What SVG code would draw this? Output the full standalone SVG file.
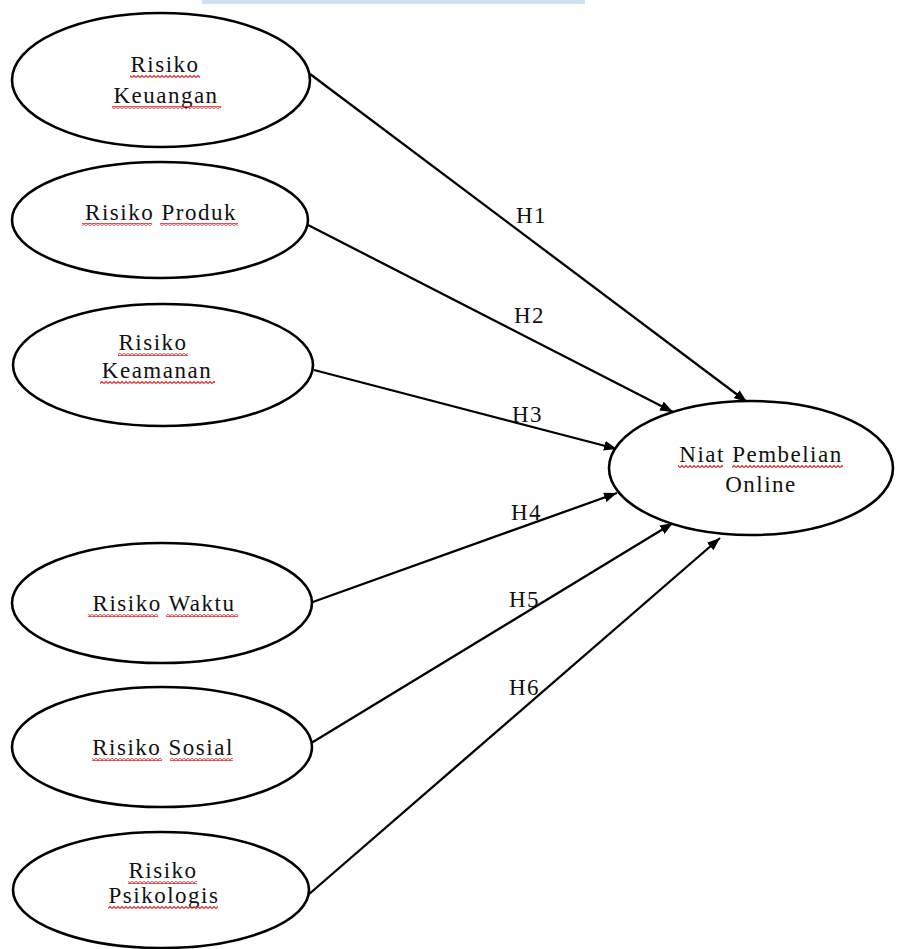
<svg xmlns="http://www.w3.org/2000/svg" width="897" height="949" viewBox="0 0 897 949">
<style>
.node ellipse{fill:#fff;stroke:#000;stroke-width:2.6}
text{font-family:"Liberation Serif","Times New Roman",serif;font-size:23px;letter-spacing:1.5px;fill:#111;text-anchor:middle}
.lbl{text-anchor:start}
.conn line{stroke:#000;stroke-width:2.3}
.sq{fill:url(#squig)}
</style>
<defs>
<marker id="ah" viewBox="0 0 13 10" refX="13" refY="5" markerWidth="13" markerHeight="10" markerUnits="userSpaceOnUse" orient="auto">
<path d="M0,0 L13,5 L0,10 Z" fill="#000"/>
</marker>
<pattern id="squig" width="4" height="3" patternUnits="userSpaceOnUse">
<path d="M0,2.5 L2,0.5 L4,2.5" fill="none" stroke="#e02828" stroke-width="1.1"/>
</pattern>
</defs>
<rect x="202" y="0" width="383" height="4" fill="#cfe2f3"/>
<g class="conn">
<line x1="310" y1="74" x2="747" y2="402" marker-end="url(#ah)"/>
<line x1="308" y1="225" x2="673" y2="412" marker-end="url(#ah)"/>
<line x1="314" y1="370" x2="617" y2="449" marker-end="url(#ah)"/>
<line x1="310" y1="603" x2="617" y2="493" marker-end="url(#ah)"/>
<line x1="308" y1="745" x2="673" y2="523" marker-end="url(#ah)"/>
<line x1="308" y1="895" x2="720" y2="538" marker-end="url(#ah)"/>
</g>
<g id="n1" class="node">
<ellipse cx="161" cy="80" rx="149" ry="67"/>
<text x="165" y="72">Risiko</text>
<text x="166" y="103">Keuangan</text>
<rect class="sq" x="130" y="75" width="70" height="3"/>
<rect class="sq" x="112" y="106" width="109" height="3"/>
</g>
<g id="n2" class="node">
<ellipse cx="160" cy="220" rx="148" ry="58"/>
<text x="161" y="220">Risiko Produk</text>
<rect class="sq" x="82" y="223" width="70" height="3"/>
<rect class="sq" x="160" y="223" width="78" height="3"/>
</g>
<g id="n3" class="node">
<ellipse cx="163" cy="365" rx="150" ry="61"/>
<text x="153" y="350">Risiko</text>
<text x="157" y="378">Keamanan</text>
<rect class="sq" x="118" y="353" width="70" height="3"/>
<rect class="sq" x="100" y="381" width="115" height="3"/>
</g>
<g id="n4" class="node">
<ellipse cx="162" cy="603" rx="150" ry="60"/>
<text x="164" y="611">Risiko Waktu</text>
<rect class="sq" x="88" y="614" width="70" height="3"/>
<rect class="sq" x="166" y="614" width="72" height="3"/>
</g>
<g id="n5" class="node">
<ellipse cx="162" cy="747" rx="150" ry="60"/>
<text x="163" y="755">Risiko Sosial</text>
<rect class="sq" x="92" y="758" width="70" height="3"/>
<rect class="sq" x="170" y="758" width="63" height="3"/>
</g>
<g id="n6" class="node">
<ellipse cx="161" cy="890" rx="148" ry="58"/>
<text x="163" y="878">Risiko</text>
<text x="164" y="903">Psikologis</text>
<rect class="sq" x="128" y="881" width="69" height="3"/>
<rect class="sq" x="108" y="906" width="110" height="3"/>
</g>
<g id="n7" class="node">
<ellipse cx="751" cy="468" rx="142" ry="67"/>
<text x="761" y="462">Niat Pembelian</text>
<text x="761" y="492">Online</text>
<rect class="sq" x="678" y="465" width="45" height="3"/>
<rect class="sq" x="732" y="465" width="111" height="3"/>
</g>
<g id="labels">
<text class="lbl" x="516" y="223">H1</text>
<text class="lbl" x="514" y="323">H2</text>
<text class="lbl" x="512" y="422">H3</text>
<text class="lbl" x="511" y="520">H4</text>
<text class="lbl" x="509" y="607">H5</text>
<text class="lbl" x="509" y="695">H6</text>
</g>
</svg>
